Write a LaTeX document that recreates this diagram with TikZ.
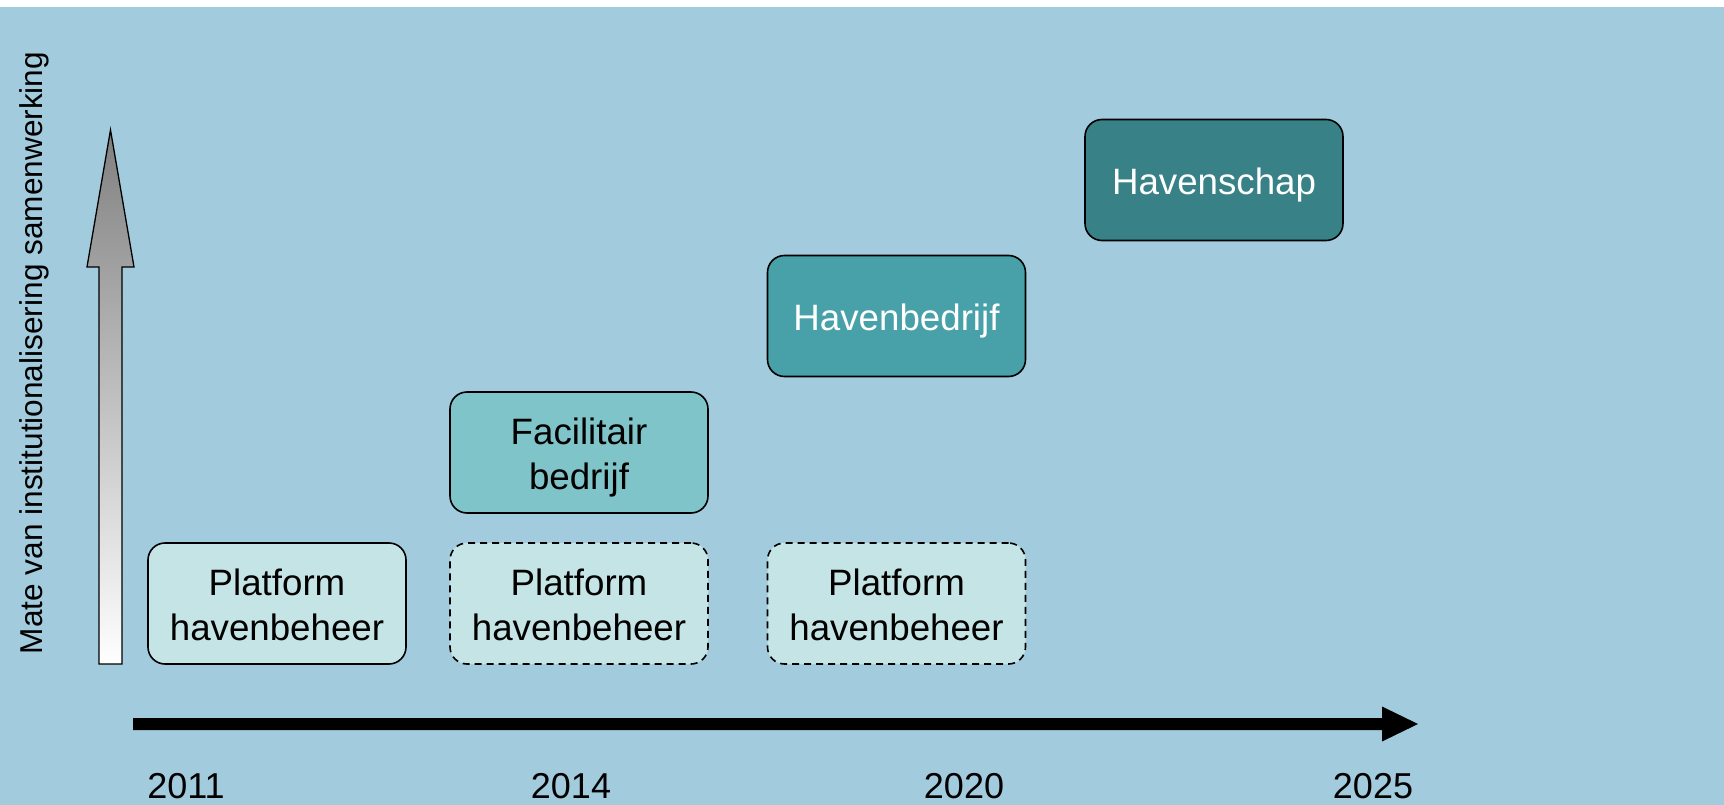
\documentclass[tikz,border=0pt]{standalone}
\usepackage{fontspec}
\setmainfont{Liberation Sans}
\definecolor{bgblue}{RGB}{162,203,221}
\definecolor{platfill}{RGB}{197,228,229}
\definecolor{facfill}{RGB}{127,196,200}
\definecolor{hbfill}{RGB}{72,161,169}
\definecolor{hsfill}{RGB}{56,129,135}
\definecolor{arrowgray}{RGB}{128,128,128}
\tikzset{
  stagebox/.style={draw=black, line width=1.6pt, rounded corners=17pt,
    minimum width=258pt, minimum height=121pt, inner sep=0pt, align=center,
    font=\fontsize{36.7}{45.5}\selectfont, text height=29pt, text depth=0pt},
  twoline/.style={text height=74pt, text depth=0pt},
  dashedbox/.style={stagebox, twoline, dash pattern=on 7pt off 5pt},
  yearlabel/.style={anchor=base, inner sep=0pt, font=\fontsize{36}{43}\selectfont},
}
\begin{document}
\begin{tikzpicture}[x=1pt, y=-1pt]
  % canvas
  \useasboundingbox (0,0) rectangle (1724,805);
  \fill[white] (0,0) rectangle (1724,805);
  \fill[bgblue] (0,7) rectangle (1724,805);

  % vertical axis arrow (shaded)
  \shade[top color=arrowgray, bottom color=white, draw=black, line width=1.3pt, line join=miter]
    (99,664) -- (99,267) -- (87,267) -- (110.5,130) -- (134,267) -- (122,267) -- (122,664) -- cycle;

  % vertical axis label
  \node[rotate=90, anchor=base, inner sep=0pt, font=\fontsize{31.6}{38}\selectfont]
    (ylabel) at (42,353) {Mate van institutionalisering samenwerking};

  % horizontal time arrow
  \fill[black] (133,718) -- (1382,718) -- (1382,706.5) -- (1418,724)
    -- (1382,741.5) -- (1382,730) -- (133,730) -- cycle;

  % year labels
  \node[yearlabel] (y2011) at (186,798) {2011};
  \node[yearlabel] (y2014) at (571,798) {2014};
  \node[yearlabel] (y2020) at (964,798) {2020};
  \node[yearlabel] (y2025) at (1373,798) {2025};

  % stage boxes
  \node[stagebox, twoline, fill=platfill] (plat1) at (277,603.5) {Platform\\havenbeheer};
  \node[dashedbox, fill=platfill] (plat2) at (579,603.5) {Platform\\havenbeheer};
  \node[dashedbox, fill=platfill] (plat3) at (896.5,603.5) {Platform\\havenbeheer};
  \node[stagebox, twoline, fill=facfill] (fac) at (579,452.5) {Facilitair\\bedrijf};
  \node[stagebox, fill=hbfill, text=white] (hb) at (896.5,316) {Havenbedrijf};
  \node[stagebox, fill=hsfill, text=white] (hs) at (1214,180) {Havenschap};
\end{tikzpicture}
\end{document}
